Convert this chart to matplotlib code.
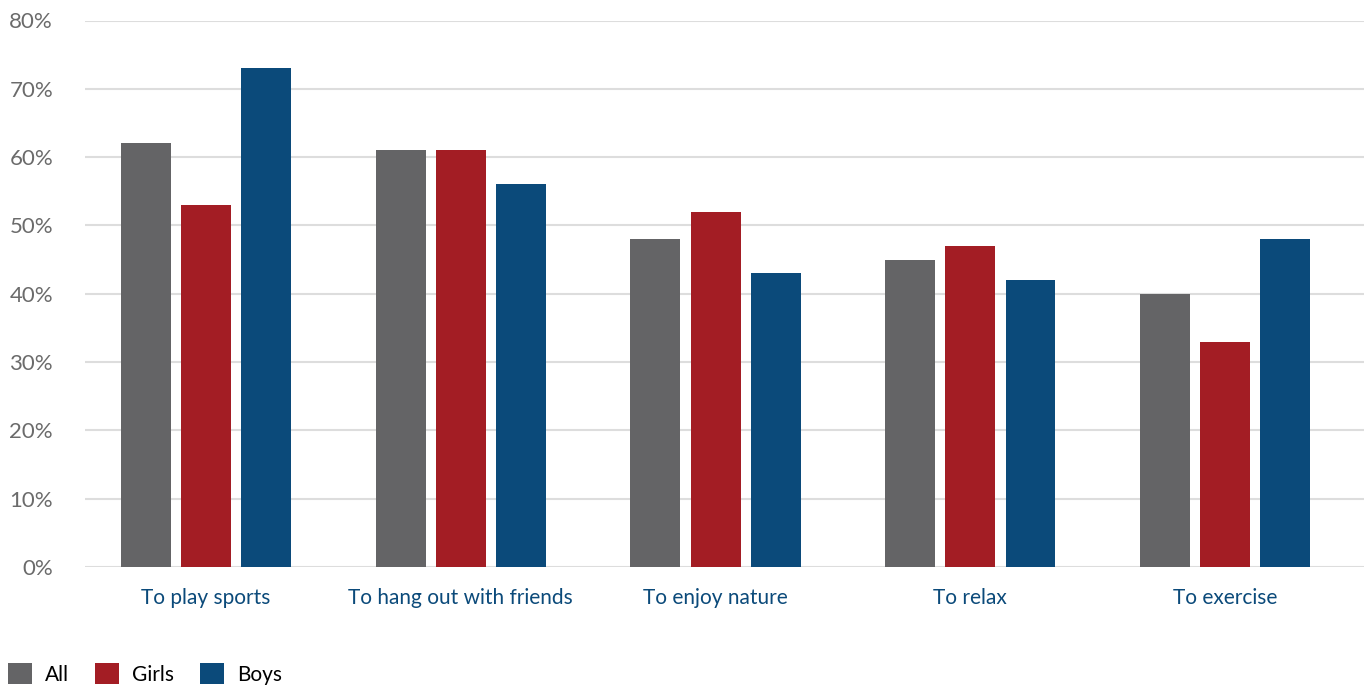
import numpy as np
import matplotlib.pyplot as plt
from matplotlib.patches import Patch
from matplotlib.ticker import FuncFormatter

categories = ["To play sports", "To hang out with friends", "To enjoy nature",
              "To relax", "To exercise"]
series = ["All", "Girls", "Boys"]
all_vals = [62, 61, 48, 45, 40]
girls_vals = [53, 61, 52, 47, 33]
boys_vals = [73, 56, 43, 42, 48]
yticks = [0, 10, 20, 30, 40, 50, 60, 70, 80]

colors = ["#646466", "#A31D24", "#0B4A7A"]

plt.rcParams['font.family'] = ['Lato', 'DejaVu Sans']

fig = plt.figure(figsize=(13.64, 6.89), dpi=100)
ax = fig.add_axes([85 / 1364, (689 - 567) / 689, 1 - 85 / 1364, (567 - 20.5) / 689])

x = np.arange(len(categories))
width = 0.196
offset = 0.236
for i, (vals, c) in enumerate(zip([all_vals, girls_vals, boys_vals], colors)):
    ax.bar(x + (i - 1) * offset, vals, width, color=c, zorder=3)

ax.set_ylim(0, 80)
ax.set_xlim(-0.475, 4.545)
ax.set_yticks(yticks)
ax.yaxis.set_major_formatter(FuncFormatter(lambda v, p: f"{int(v)}%"))
ax.set_xticks(x)
ax.set_xticklabels(categories)

ax.grid(axis='y', color='#dddddd', linewidth=1.5, zorder=0)
for s in ax.spines.values():
    s.set_visible(False)
ax.tick_params(axis='both', length=0)
ax.tick_params(axis='y', labelsize=16, labelcolor='#6b6b6b', pad=23)
ax.tick_params(axis='x', labelsize=15, labelcolor='#0B4A7A', pad=15)

handles = [Patch(facecolor=c, label=s) for c, s in zip(colors, series)]
fig.legend(handles=handles, loc='lower left', bbox_to_anchor=(0.0, -4 / 689), ncol=3,
           frameon=False, fontsize=15, handlelength=1.15, handleheight=1.15,
           handletextpad=0.62, columnspacing=1.25, borderaxespad=0.0)

fig.savefig("out.png", dpi=100)
